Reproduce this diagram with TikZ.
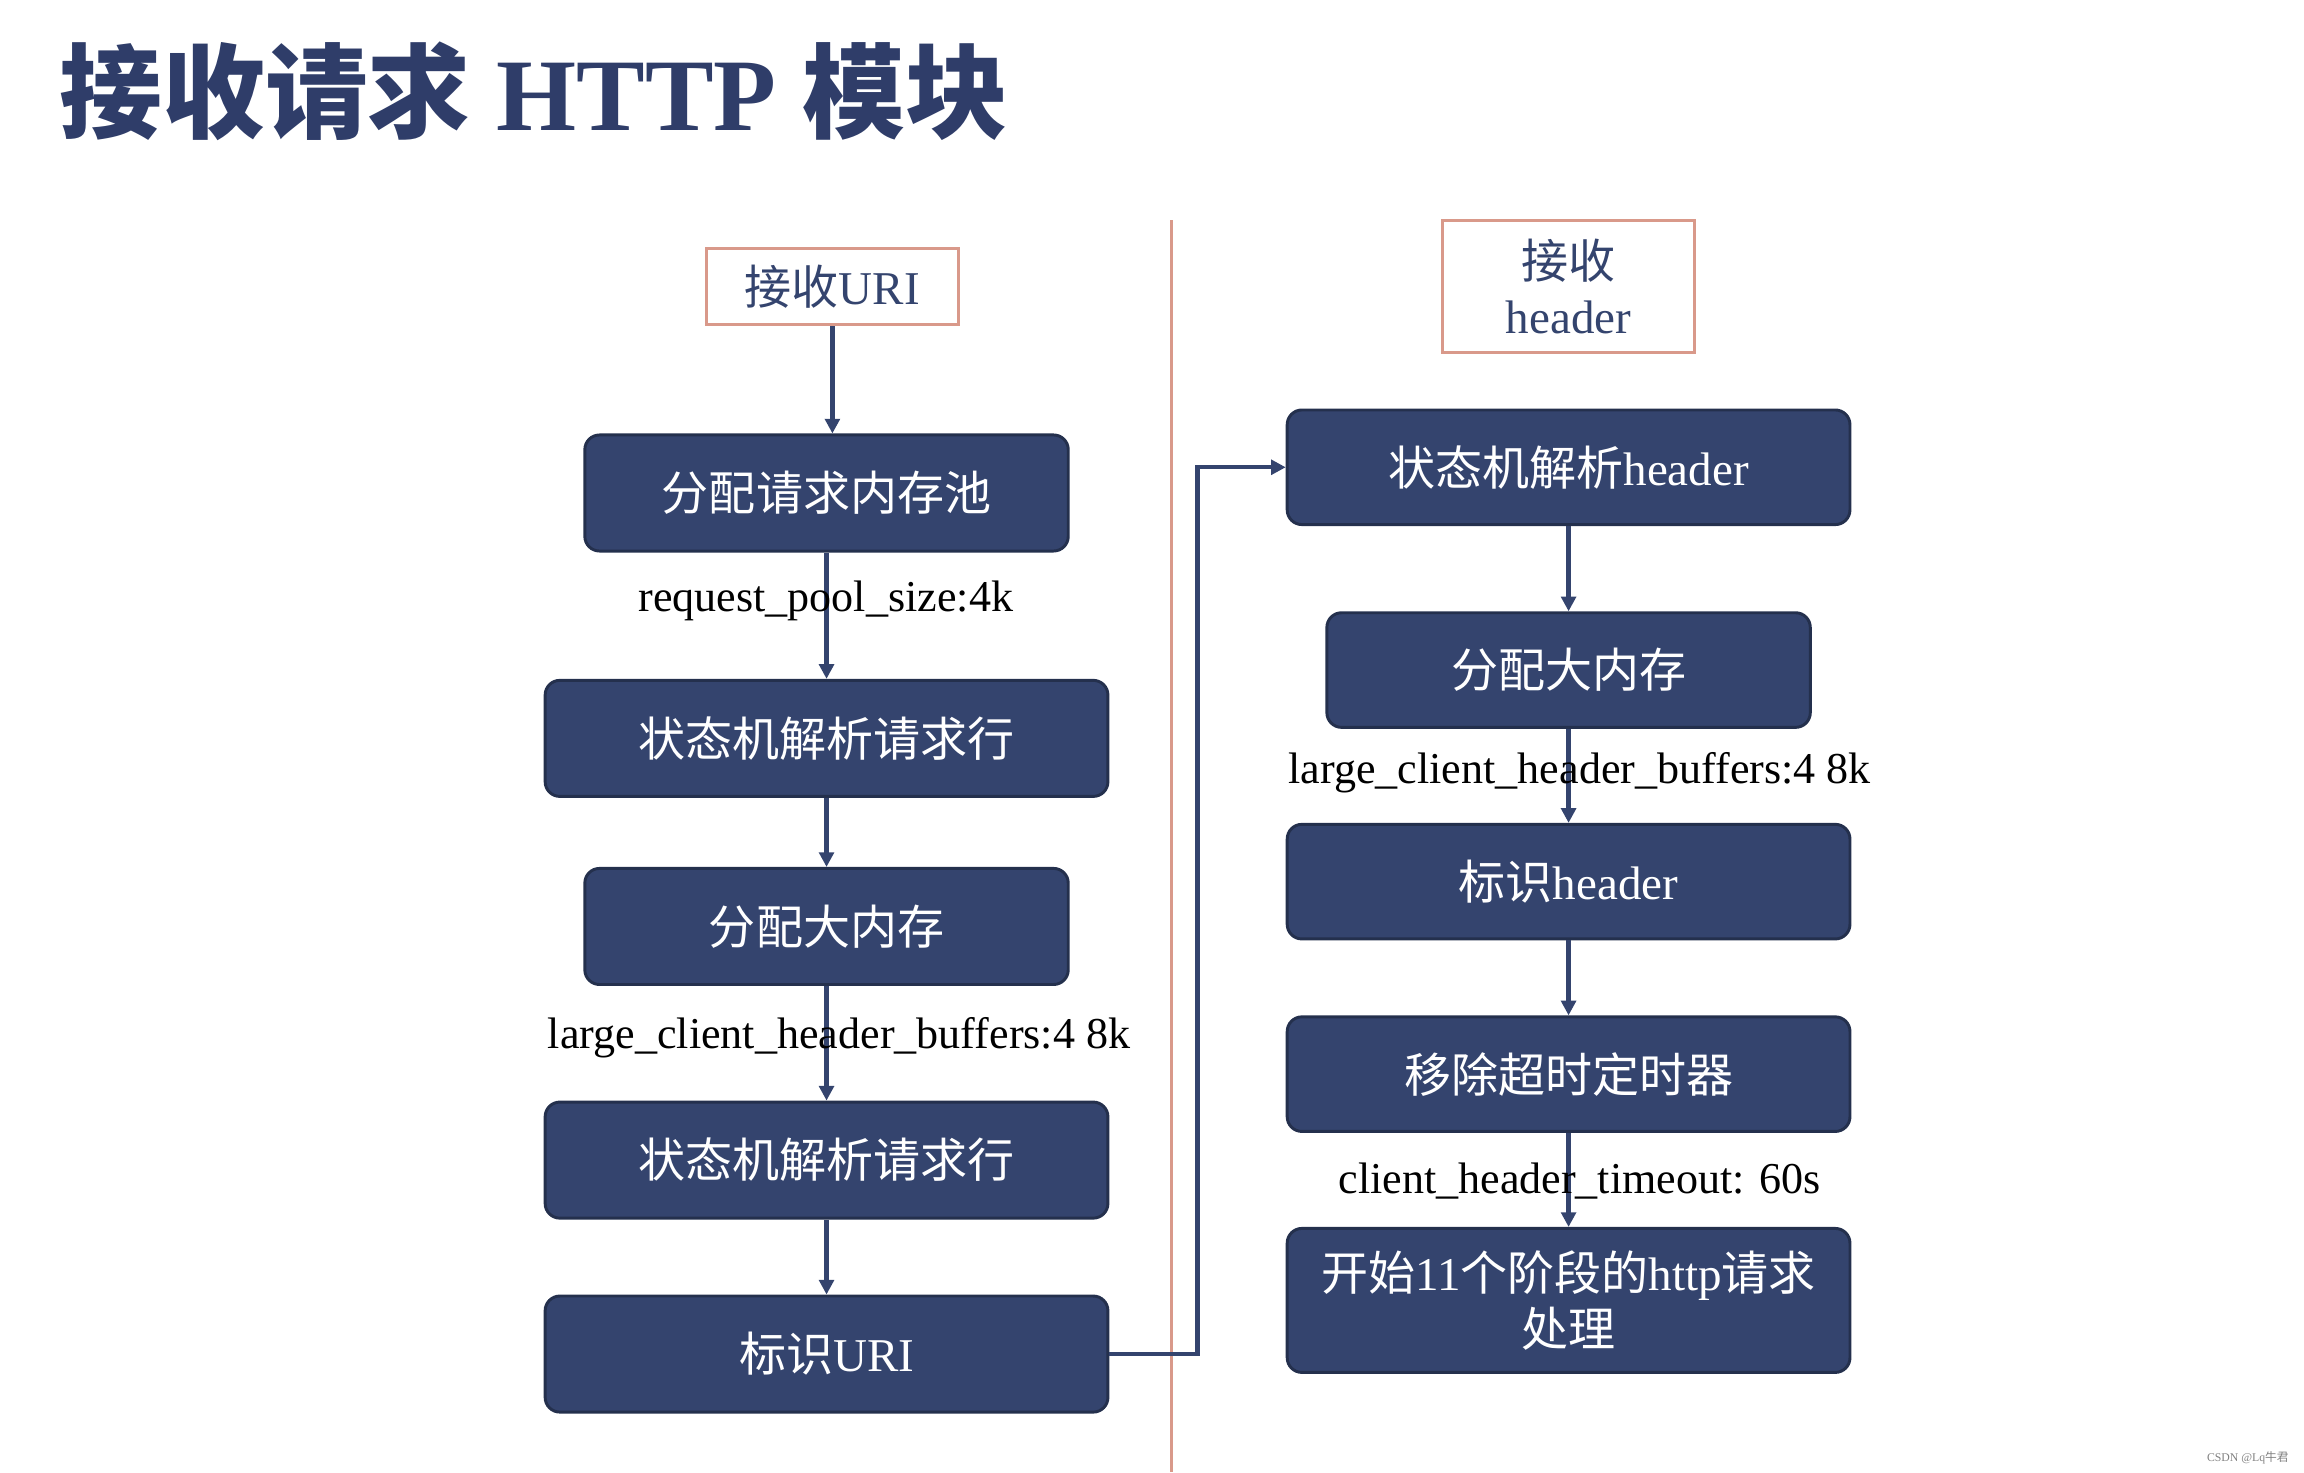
\documentclass[tikz,border=0pt]{standalone}
\usepackage{fontspec}
\setmainfont{Liberation Serif}
\newfontfamily\cjk{Noto Sans CJK SC}
\usetikzlibrary{arrows.meta}
\definecolor{navy}{HTML}{34446E}
\definecolor{ttl}{HTML}{2F3D69}
\definecolor{orng}{HTML}{D9998A}
\begin{document}
\begin{tikzpicture}[x=0.5pt,y=-0.5pt,
  box/.style={draw=navy!70!black,line width=1pt,fill=navy,rounded corners=5pt,text=white,font=\fontsize{16}{19}\selectfont,align=center,inner sep=0pt},
  hdr/.style={draw=orng,line width=1pt,fill=white,text=navy,font=\fontsize{16}{19}\selectfont,align=center,inner sep=0pt},
  arr/.style={draw=navy,line width=1.5pt,-{Triangle[length=5pt,width=5pt]}},
  lbl/.style={font=\fontsize{15}{18}\selectfont,text=black,inner sep=0pt}]
\useasboundingbox (0,0) rectangle (1568,1002);
\node[anchor=west,text=ttl,font=\fontsize{35}{40}\selectfont\bfseries,inner sep=0pt] (title) at (40,62) {{\cjk\bfseries 接收请求} HTTP {\cjk\bfseries 模块}};
\draw[orng,line width=1pt] (797,150) coordinate (d1) -- (797,1002) coordinate (d2);
% left
\node[hdr,minimum width=85.5pt,minimum height=26pt] (uri) at (566.5,195) {{\cjk 接收}URI};
\node[box,minimum width=164.5pt,minimum height=39.5pt] (l1) at (562.5,335.5) {\cjk 分配请求内存池};
\node[box,minimum width=191.5pt,minimum height=39.5pt] (l2) at (562.5,502.5) {\cjk 状态机解析请求行};
\node[box,minimum width=164.5pt,minimum height=39.5pt] (l3) at (562.5,630.5) {\cjk 分配大内存};
\node[box,minimum width=191.5pt,minimum height=39.5pt] (l4) at (562.5,789.5) {\cjk 状态机解析请求行};
\node[box,minimum width=191.5pt,minimum height=39.5pt] (l5) at (562.5,921.5) {{\cjk 标识}URI};
\draw[arr] (uri.south) -- (uri.south |- l1.north);
\draw[arr] (l1) -- (l2);
\draw[arr] (l2) -- (l3);
\draw[arr] (l3) -- (l4);
\draw[arr] (l4) -- (l5);
\node[lbl] (t1) at (562,409) {request\_pool\_size:4k};
\node[lbl] (t2) at (571,706) {large\_client\_header\_buffers:4 8k};
% right
\node[hdr,minimum width=85.5pt,minimum height=45pt] (hd) at (1067.5,195) {{\cjk 接收}\\header};
\node[box,minimum width=191.5pt,minimum height=39pt] (r1) at (1067.5,318) {{\cjk 状态机解析}header};
\node[box,minimum width=164.5pt,minimum height=39pt] (r2) at (1067.5,456) {\cjk 分配大内存};
\node[box,minimum width=191.5pt,minimum height=39pt] (r3) at (1067.5,600) {{\cjk 标识}header};
\node[box,minimum width=191.5pt,minimum height=39pt] (r4) at (1067.5,731) {\cjk 移除超时定时器};
\node[box,minimum width=191.5pt,minimum height=49pt] (r5) at (1067.5,885) {{\cjk 开始}11{\cjk 个阶段的}http{\cjk 请求}\\{\cjk 处理}};
\draw[arr] (r1) -- (r2);
\draw[arr] (r2) -- (r3);
\draw[arr] (r3) -- (r4);
\draw[arr] (r4) -- (r5);
\node[lbl] (t3) at (1075,526) {large\_client\_header\_buffers:4 8k};
\node[lbl] (t4) at (1075,804) {client\_header\_timeout: 60s};
\draw[arr] (l5.east) -- (815,921.5) -- (815,318) -- (r1.west);
\node[anchor=east,text=gray,font=\fontsize{4}{5}\selectfont,inner sep=0pt] (wm) at (1558,992) {CSDN @Lq{\cjk 牛君}};
\end{tikzpicture}
\end{document}
